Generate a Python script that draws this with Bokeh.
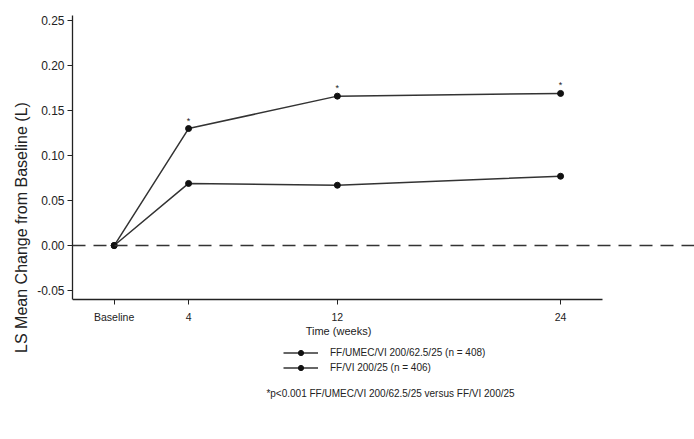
from bokeh.plotting import figure
from bokeh.models import FixedTicker, Span, Label, Legend, LegendItem, Range1d, Title
from bokeh.embed import file_html
from bokeh.resources import INLINE

weeks = [0, 4, 12, 24]
x_tick_labels = {0: "Baseline", 4: "4", 12: "12", 24: "24"}
triple = [0.0, 0.130, 0.166, 0.169]
dual = [0.0, 0.069, 0.067, 0.077]
sig_weeks = [4, 12, 24]
sig_vals = [0.130, 0.166, 0.169]
name_triple = "FF/UMEC/VI 200/62.5/25 (n = 408)"
name_dual = "FF/VI 200/25 (n = 406)"
y_ticks = [-0.05, 0.0, 0.05, 0.10, 0.15, 0.20, 0.25]

FONT = "Liberation Sans"
INK = "#222222"

Y_AXIS_MIN, Y_TOP = -0.06, 0.2556
p = figure(width=694, height=439, output_backend="svg", toolbar_location=None,
           x_range=Range1d(-2.24, 31.2), y_range=Range1d(-0.2155, Y_TOP),
           min_border_left=72, min_border_right=0, min_border_top=15, min_border_bottom=0)
p.outline_line_color = None
p.grid.grid_line_color = None
p.background_fill_color = "white"

# axes
p.xaxis.ticker = FixedTicker(ticks=weeks)
p.xaxis.major_label_overrides = x_tick_labels
p.xaxis.bounds = (-2.24, 26.26)
p.xaxis.fixed_location = Y_AXIS_MIN
p.yaxis.ticker = FixedTicker(ticks=y_ticks)
p.yaxis.bounds = (Y_AXIS_MIN, Y_TOP)
p.yaxis.major_label_overrides = {v: f"{v:.2f}" for v in y_ticks}
for ax in (p.xaxis[0], p.yaxis[0]):
    ax.axis_line_color = INK
    ax.axis_line_width = 1.3
    ax.major_tick_line_color = INK
    ax.major_tick_out = 5
    ax.major_tick_in = 0
    ax.minor_tick_line_color = None
    ax.major_label_text_font = FONT
    ax.major_label_text_font_size = "10.5px"
    ax.major_label_text_color = INK
p.yaxis.major_label_text_font_size = "12px"
p.yaxis.major_label_standoff = 3
p.xaxis.major_label_standoff = 6

ylabel = Title(text="LS Mean Change from Baseline (L)", align="center", offset=62,
               text_font=FONT, text_font_size="16px", text_font_style="normal",
               text_color=INK, standoff=9)
p.add_layout(ylabel, "left")

zero = Span(location=0, dimension="width", line_color="#333333", line_width=1.5, line_dash="13 8")
p.add_layout(zero)

r1l = p.line(weeks, triple, line_color="#333333", line_width=1.5)
r1s = p.scatter(weeks, triple, size=6, color="#111111")
r2l = p.line(weeks, dual, line_color="#333333", line_width=1.5)
r2s = p.scatter(weeks, dual, size=6, color="#111111")

p.text(sig_weeks, sig_vals, text=["*"] * len(sig_weeks), text_align="center",
       text_baseline="bottom", y_offset=-3, text_font_size="9px", text_color=INK,
       text_font={"value": FONT})

legend = Legend(items=[LegendItem(label=name_triple, renderers=[r1l, r1s]),
                       LegendItem(label=name_dual, renderers=[r2l, r2s])],
                location=(211, 65), orientation="vertical",
                border_line_color=None, background_fill_alpha=0,
                label_text_font=FONT, label_text_font_size="10px", label_text_color=INK,
                glyph_width=35, glyph_height=13, spacing=2, label_standoff=12,
                padding=0, margin=0)
p.add_layout(legend, "center")

p.add_layout(Label(x=266, y=109, x_units="screen", y_units="screen", text="Time (weeks)",
                   text_align="center", text_baseline="middle", text_font=FONT,
                   text_font_size="11px", text_color=INK))
p.add_layout(Label(x=318, y=46, x_units="screen", y_units="screen",
                   text="*p<0.001 FF/UMEC/VI 200/62.5/25 versus FF/VI 200/25",
                   text_align="center", text_baseline="middle", text_font=FONT,
                   text_font_size="10px", text_color=INK))

open("out.html", "w").write(file_html(p, INLINE))
